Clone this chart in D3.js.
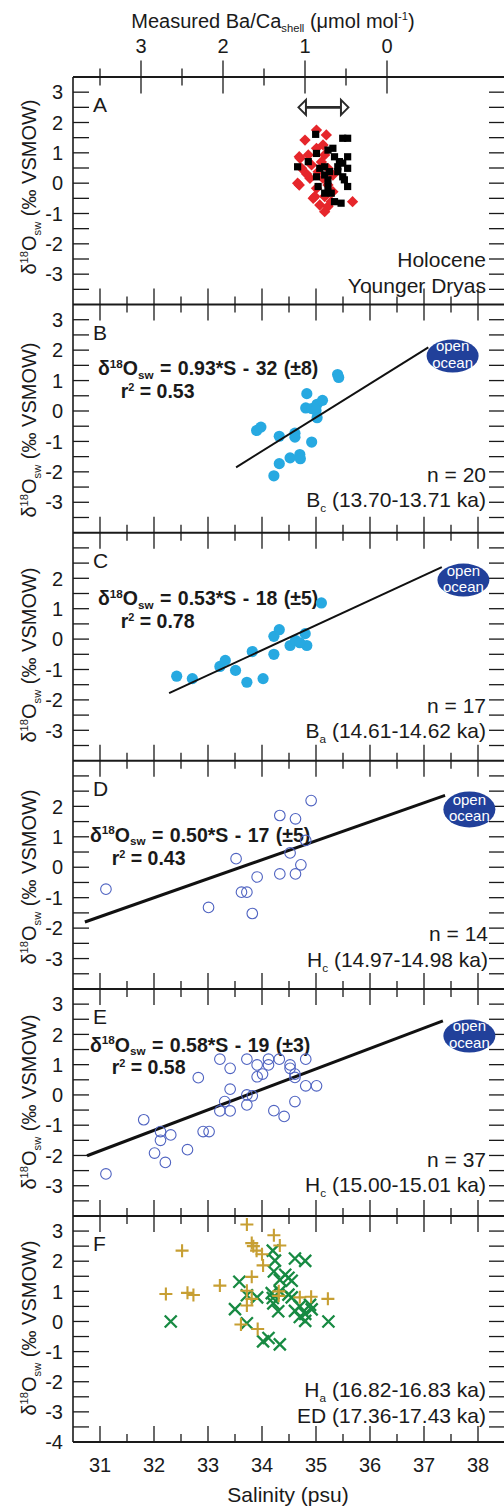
<!DOCTYPE html>
<html><head><meta charset="utf-8">
<script src="https://cdn.jsdelivr.net/npm/d3@7"></script>
<style>
body{margin:0;background:#fff}
svg{display:block}
text{font-family:"Liberation Sans",Arial,Helvetica,sans-serif;fill:#1a1a1a}
</style>
</head><body>
<svg id="c" width="504" height="1508"></svg>
<script>
// ---------------- DATA ----------------
const panelLetters = ["A","B","C","D","E","F"];
const yTickLabels = [
  [3,2,1,0,-1,-2,-3],
  [3,2,1,0,-1,-2,-3],
  [2,1,0,-1,-2,-3],
  [2,1,0,-1,-2,-3],
  [3,2,1,0,-1,-2,-3],
  [3,2,1,0,-1,-2,-3,-4]
];
const salinityTicks = [31,32,33,34,35,36,37,38];
const baCaTicks = [3,2,1,0];

// Panel A: [Ba/Ca, d18Osw]
const youngerDryas = [[0.86,1.75],[0.74,1.59],[1.00,1.42],[0.86,1.15],[0.78,1.26],[1.07,0.87],[0.96,0.93],[0.76,0.93],[1.04,0.49],[0.92,0.60],[0.84,0.38],[0.72,0.49],[0.94,0.16],[0.78,0.16],[0.66,0.27],[1.07,-0.06],[0.86,-0.17],[0.72,-0.06],[0.88,-0.44],[0.76,-0.44],[0.66,-0.28],[0.82,-0.72],[0.72,-0.77],[0.42,-0.61],[0.76,-0.94],[0.68,-0.61],[1.09,0.00],[1.06,0.82],[0.90,-0.50],[0.98,0.30],[0.80,0.70]];
const holocene = [[0.87,1.61],[0.54,1.48],[0.48,1.48],[0.86,0.98],[0.72,1.09],[0.66,1.15],[0.64,0.87],[0.48,0.87],[0.96,0.71],[0.58,0.71],[0.54,0.66],[1.09,0.54],[0.82,0.49],[0.76,0.54],[0.60,0.54],[0.48,0.49],[0.70,0.38],[0.86,0.21],[0.76,0.27],[0.54,0.21],[0.60,0.38],[0.52,0.11],[0.72,0.11],[0.84,-0.11],[0.72,-0.11],[0.48,-0.11],[0.76,-0.33],[0.68,-0.33],[0.64,-0.61],[0.56,-0.66]];
const baCaArrow = [1.08, 0.47];
const baCaArrowLevel = 2.5;

// Panels B-F: [salinity, d18Osw]
const pointsB = [[35.40,1.20],[35.42,1.10],[34.83,0.57],[34.81,0.10],[34.92,0.08],[35.02,0.22],[35.12,0.35],[35.00,0.02],[35.02,-0.22],[33.90,-0.64],[33.98,-0.53],[34.32,-0.83],[34.61,-0.73],[34.61,-0.86],[34.92,-1.02],[34.32,-1.73],[34.52,-1.54],[34.70,-1.43],[34.71,-1.57],[34.22,-2.13]];
const pointsC = [[35.10,1.19],[32.42,-1.22],[32.71,-1.30],[33.22,-0.90],[33.32,-0.70],[33.51,-1.03],[33.72,-1.42],[33.82,-0.41],[34.02,-1.30],[34.22,0.09],[34.32,0.31],[34.22,-0.50],[34.52,-0.21],[34.62,-0.04],[34.80,0.18],[34.83,-0.21],[34.70,-0.12]];
const pointsD = [[34.91,2.19],[34.33,1.70],[34.62,1.59],[34.81,0.88],[34.52,0.47],[33.52,0.28],[34.72,0.08],[34.33,-0.22],[34.62,-0.22],[33.91,-0.32],[31.11,-0.72],[33.62,-0.82],[33.72,-0.82],[33.01,-1.32],[33.82,-1.52]];
const pointsE = [[33.22,1.18],[33.41,0.88],[32.82,0.57],[33.72,1.18],[33.91,0.99],[34.01,0.69],[33.91,0.60],[34.12,1.18],[34.12,0.99],[34.32,1.18],[34.52,0.99],[34.52,0.88],[34.61,0.69],[34.61,0.58],[34.81,1.18],[34.81,0.30],[35.01,0.30],[33.41,0.19],[33.31,-0.22],[33.72,0.00],[33.82,-0.03],[33.72,-0.33],[33.22,-0.53],[33.41,-0.53],[34.22,-0.52],[34.41,-0.71],[34.61,-0.22],[31.81,-0.82],[32.12,-1.21],[32.12,-1.50],[32.31,-1.32],[32.91,-1.21],[33.02,-1.21],[32.01,-1.92],[32.21,-2.23],[32.62,-1.81],[31.11,-2.61]];
const pointsFplus = [[33.72,3.22],[34.22,2.86],[33.81,2.60],[33.84,2.50],[34.33,2.52],[33.90,2.35],[34.00,2.23],[34.02,1.86],[32.52,2.35],[33.81,1.48],[33.22,1.19],[32.22,0.91],[32.62,0.95],[32.73,0.88],[33.72,1.02],[33.81,0.75],[33.72,0.53],[34.31,1.00],[34.31,0.85],[34.70,0.80],[34.91,0.82],[35.22,0.75],[33.61,-0.10],[33.92,-0.25]];
const pointsFcross = [[34.20,2.35],[34.24,2.02],[34.61,2.09],[34.80,2.01],[34.22,1.66],[34.43,1.55],[34.49,1.45],[34.55,1.35],[34.33,1.38],[33.58,1.32],[34.33,1.00],[34.18,0.94],[34.20,0.78],[33.72,0.87],[33.91,0.80],[34.49,0.89],[34.55,0.80],[34.21,0.60],[34.30,0.34],[33.50,0.41],[34.61,0.35],[34.70,0.50],[34.80,0.25],[34.89,0.55],[34.92,0.40],[34.70,0.15],[34.80,0.02],[35.23,0.00],[32.31,0.00],[33.72,-0.06],[34.02,-0.66],[34.12,-0.55],[34.33,-0.76]];

// regression lines [[S,d18O],[S,d18O]]
const lineB = [[33.52,-1.85],[37.08,2.09]];
const lineC = [[32.28,-1.78],[37.33,2.37]];
const lineD = [[30.72,-1.80],[37.39,2.36]];
const lineE = [[30.76,-2.01],[37.35,2.45]];
// open-ocean reference positions
const openOceanB = [37.53,1.81];
const openOceanC = [37.73,1.94];
const openOceanD = [37.84,1.90];
const openOceanE = [37.84,1.95];

const equations = [null,
  {slope:"0.93", icpt:"32", err:"±8", r2:"0.53"},
  {slope:"0.53", icpt:"18", err:"±5", r2:"0.78"},
  {slope:"0.50", icpt:"17", err:"±5", r2:"0.43"},
  {slope:"0.58", icpt:"19", err:"±3", r2:"0.58"},
  null];
const rightLabels = [
  [[["Holocene"]],[["Younger Dryas"]]],
  [[["n = 20"]],[["B"],["c","sub"],[" (13.70-13.71 ka)"]]],
  [[["n = 17"]],[["B"],["a","sub"],[" (14.61-14.62 ka)"]]],
  [[["n = 14"]],[["H"],["c","sub"],[" (14.97-14.98 ka)"]]],
  [[["n = 37"]],[["H"],["c","sub"],[" (15.00-15.01 ka)"]]],
  [[["H"],["a","sub"],[" (16.82-16.83 ka)"]],[["ED (17.36-17.43 ka)"]]]
];

// ---------------- LAYOUT ----------------
const panelTops = [77,304.5,532.7,760.7,989,1216,1442];
const L = 73, R = 505;
const ylabCenters = [187,430,655,877,1102,1328];
const eqPos = [null,[98,70.5,120.7,93.8],[98,72.3,120.7,95.6],[90,81,111.7,104.3],[90,62.7,111.7,85]];
const rightPos = [[189.7,216.3],[177.2,202.8],[180,205],[180,206],[177.7,203.3],[180.7,206.7]];

const svg = d3.select("#c");
const x = d3.scaleLinear().domain([30.5,38.5]).range([L,R]);
const xBa = d3.scaleLinear().domain([3.5,0]).range([x(31), x(31)+287]);
const ys = panelLetters.map((_,i)=>d3.scaleLinear().domain([-4,3.5]).range([panelTops[i+1],panelTops[i]]));
const INK = "#1a1a1a";

function rich(sel, parts, fs, scale, subShift){
  scale = scale || 0.56;
  subShift = subShift || 0.24;
  let shift = 0;
  parts.forEach(p=>{
    const s = p[1]==="sup" ? -0.38*fs : p[1]==="sub" ? subShift*fs : 0;
    const ts = sel.append("tspan").text(p[0]);
    if (s-shift !== 0) ts.attr("dy", s-shift);
    if (p[1]) ts.attr("font-size", fs*scale);
    shift = s;
  });
  return sel;
}

// ---- axes frame ----
const axes = svg.append("g");
panelTops.forEach(t=>{
  axes.append("line").attr("x1",L).attr("x2",R).attr("y1",t).attr("y2",t)
    .attr("stroke",INK).attr("stroke-width",2);
});
axes.append("line").attr("x1",L).attr("x2",L).attr("y1",panelTops[0]).attr("y2",panelTops[6])
  .attr("stroke",INK).attr("stroke-width",1.6);

// salinity ticks at panel boundaries (inward)
const salMinor = d3.range(31,38.01,0.5);
panelTops.forEach((t,j)=>{
  if (j===0) return;
  salMinor.forEach(v=>{
    const len = Number.isInteger(v) ? 16 : 8;
    const dirs = [-1];
    if (j<6) dirs.push(1);
    dirs.forEach(d=>{
      axes.append("line").attr("x1",x(v)).attr("x2",x(v)).attr("y1",t).attr("y2",t+d*len)
        .attr("stroke",INK).attr("stroke-width",1.3);
    });
  });
});
// Ba/Ca ticks top (both directions)
d3.range(0,3.51,0.5).forEach(v=>{
  const len = Number.isInteger(v) ? 16.5 : 8.5;
  [-1,1].forEach(d=>{
    axes.append("line").attr("x1",xBa(v)).attr("x2",xBa(v)).attr("y1",panelTops[0]).attr("y2",panelTops[0]+d*len)
      .attr("stroke",INK).attr("stroke-width",1.3);
  });
});
baCaTicks.forEach(v=>{
  axes.append("text").attr("x",xBa(v)).attr("y",53).attr("text-anchor","middle")
    .attr("font-size",20).text(v);
});
rich(axes.append("text").attr("x",273).attr("y",27.5).attr("text-anchor","middle").attr("font-size",20),
  [["Measured Ba/Ca"],["shell","sub"],[" (\u03bcmol mol"],["-1","sup"],[")"]],20);

// bottom salinity labels
salinityTicks.forEach(v=>{
  axes.append("text").attr("x",x(v)).attr("y",1471.5).attr("text-anchor","middle")
    .attr("font-size",20).text(v);
});
axes.append("text").attr("x",288).attr("y",1501.5).attr("text-anchor","middle")
  .attr("font-size",21).text("Salinity (psu)");

// ---- per-panel y axes & labels ----
panelLetters.forEach((lt,i)=>{
  const y = ys[i];
  const g = svg.append("g");
  d3.range(-3.5,3.01,0.5).forEach(v=>{
    g.append("line").attr("x1",L).attr("x2",L+16).attr("y1",y(v)).attr("y2",y(v))
      .attr("stroke",INK).attr("stroke-width",1.3);
    g.append("line").attr("x1",R-16).attr("x2",R).attr("y1",y(v)).attr("y2",y(v))
      .attr("stroke",INK).attr("stroke-width",1.3);
  });
  yTickLabels[i].forEach(v=>{
    g.append("text").attr("x",63).attr("y",y(v)).attr("dy","0.36em").attr("text-anchor","end")
      .attr("font-size",20).text(v);
  });
  const yl = g.append("text").attr("transform",`translate(36,${ylabCenters[i]}) rotate(-90)`)
    .attr("text-anchor","middle").attr("font-size",20);
  rich(yl, [["\u03b4"],["18","sup"],["O"],["sw","sub"],["  (\u2030 VSMOW)"]], 20);
  g.append("text").attr("x",93).attr("y",panelTops[i]+35).attr("font-size",21).text(lt);

  rightPos[i].forEach((off,k)=>{
    rich(g.append("text").attr("x",i===3?488:486).attr("y",panelTops[i]+off)
      .attr("text-anchor","end").attr("font-size",21), rightLabels[i][k], 21);
  });

  const eq = equations[i];
  if (eq){
    const p = eqPos[i];
    rich(g.append("text").attr("x",p[0]).attr("y",panelTops[i]+p[1]).attr("font-size",19.5)
      .attr("font-weight","bold").attr("word-spacing",1),
      [["\u03b4"],["18","sup"],["O"],["sw","sub"],[` = ${eq.slope}*S - ${eq.icpt} (${eq.err})`]], 19.5, 0.6, 0.18);
    rich(g.append("text").attr("x",p[2]).attr("y",panelTops[i]+p[3]).attr("font-size",19.5).attr("font-weight","bold"),
      [["r"],["2","sup"],[` = ${eq.r2}`]], 19.5);
  }
});

// ---- Panel A ----
const gA = svg.append("g");
const yA = ys[0];
gA.selectAll(".yd").data(youngerDryas).join("rect")
  .attr("x",-4).attr("y",-4).attr("width",8).attr("height",8)
  .attr("transform",d=>`translate(${xBa(d[0])},${yA(d[1])}) rotate(45)`)
  .attr("fill","#e6262b");
gA.selectAll(".ho").data(holocene).join("rect")
  .attr("x",d=>xBa(d[0])-3.6).attr("y",d=>yA(d[1])-3.6).attr("width",7.2).attr("height",7.2)
  .attr("fill","#000");
{
  const ya = yA(baCaArrowLevel), x1 = xBa(baCaArrow[0]), x2 = xBa(baCaArrow[1]);
  gA.append("line").attr("x1",x1+7).attr("x2",x2-7).attr("y1",ya).attr("y2",ya)
    .attr("stroke","#2a2a2a").attr("stroke-width",2.6);
  gA.append("path").attr("d",`M${x1},${ya}L${x1+7.5},${ya-7.5}L${x1+7.5},${ya+7.5}Z`)
    .attr("fill","#fff").attr("stroke","#2a2a2a").attr("stroke-width",2).attr("stroke-linejoin","miter");
  gA.append("path").attr("d",`M${x2},${ya}L${x2-7.5},${ya-7.5}L${x2-7.5},${ya+7.5}Z`)
    .attr("fill","#fff").attr("stroke","#2a2a2a").attr("stroke-width",2).attr("stroke-linejoin","miter");
}

// ---- Panels B-E ----
function regression(g, y, ln, w){
  g.append("line").attr("x1",x(ln[0][0])).attr("y1",y(ln[0][1]))
    .attr("x2",x(ln[1][0])).attr("y2",y(ln[1][1]))
    .attr("stroke","#111").attr("stroke-width",w);
}
function openOcean(g, y, c, ry){
  const cx = x(c[0]), cy = y(c[1]);
  g.append("ellipse").attr("cx",cx).attr("cy",cy).attr("rx",26).attr("ry",ry).attr("fill","#21409a");
  g.append("text").attr("x",cx).attr("y",cy-4.5).attr("text-anchor","middle").attr("font-size",15)
    .style("fill","#fff").text("open");
  g.append("text").attr("x",cx).attr("y",cy+12).attr("text-anchor","middle").attr("font-size",15)
    .style("fill","#fff").text("ocean");
}
const panelSpecs = [
  {i:1, pts:pointsB, ln:lineB, oo:openOceanB, filled:true, lw:2, ry:16.5},
  {i:2, pts:pointsC, ln:lineC, oo:openOceanC, filled:true, lw:2, ry:16.5},
  {i:3, pts:pointsD, ln:lineD, oo:openOceanD, filled:false, lw:3, ry:18},
  {i:4, pts:pointsE, ln:lineE, oo:openOceanE, filled:false, lw:3, ry:16.5}
];
panelSpecs.forEach(s=>{
  const g = svg.append("g"), y = ys[s.i];
  if (s.filled){
    g.selectAll("circle").data(s.pts).join("circle")
      .attr("cx",d=>x(d[0])).attr("cy",d=>y(d[1])).attr("r",5.6).attr("fill","#27a9e1");
    regression(g, y, s.ln, s.lw);
  } else {
    regression(g, y, s.ln, s.lw);
    g.selectAll("circle").data(s.pts).join("circle")
      .attr("cx",d=>x(d[0])).attr("cy",d=>y(d[1])).attr("r",5.3)
      .attr("fill","none").attr("stroke","#4f63c1").attr("stroke-width",1.1);
  }
  openOcean(g, y, s.oo, s.ry);
});

// ---- Panel F ----
const gF = svg.append("g"), yF = ys[5];
gF.selectAll(".cr").data(pointsFcross).join("path")
  .attr("d","M-6,-6L6,6M-6,6L6,-6")
  .attr("transform",d=>`translate(${x(d[0])},${yF(d[1])})`)
  .attr("stroke","#178a42").attr("stroke-width",2.3).attr("fill","none");
gF.selectAll(".pl").data(pointsFplus).join("path")
  .attr("d","M-6.5,0H6.5M0,-6.5V6.5")
  .attr("transform",d=>`translate(${x(d[0])},${yF(d[1])})`)
  .attr("stroke","#c79f33").attr("stroke-width",2.1).attr("fill","none");
</script>
</body></html>
